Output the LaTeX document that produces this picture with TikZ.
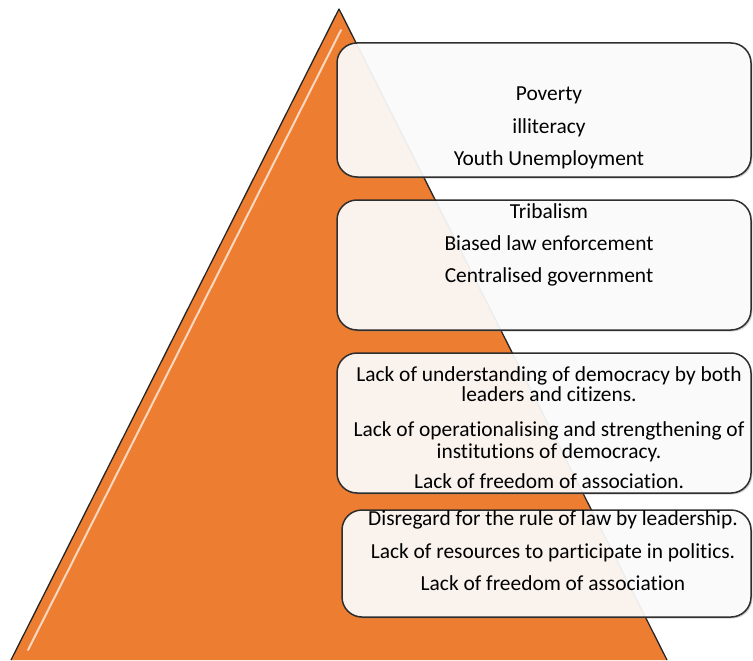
\documentclass[tikz,border=0pt]{standalone}
\usepackage{fontspec}
\setmainfont{Carlito}[Ligatures={NoCommon,NoRequired,NoContextual}, Contextuals=NoAlternate]
\usetikzlibrary{shadows}
\definecolor{tri}{HTML}{ED7D31}
\newcommand\nlti{t\kern0pt i}
\begin{document}
\begin{tikzpicture}[x=1pt,y=-1pt,
  box/.style={draw=black!82, line width=1.5pt, rounded corners=20pt, fill=white, fill opacity=0.9,
    inner sep=0pt, drop shadow={shadow xshift=1.5pt, shadow yshift=-1.5pt, opacity=0.35}},
  txt/.style={font=\fontsize{21.4}{25}\selectfont, text=black, anchor=base, inner sep=0pt},
  edge/.style={draw=black!85, line width=1.3pt, line join=round}]
\useasboundingbox (0,0) rectangle (753,661);
% pyramid
\coordinate (apex) at (339,9);
\coordinate (bl) at (11,660);
\coordinate (br) at (667,660);
\fill[tri] (apex) -- (bl) -- (br) -- cycle;
\coordinate (hs) at (341,30);
\coordinate (he) at (28,650);
\draw[white, line width=2pt, opacity=0.7, line cap=round] (hs) -- (he);
\draw[edge] (bl) -- (apex) -- (br);
% boxes
\node[box, minimum width=414pt, minimum height=134pt] (b1) at (544,110) {};
\node[box, minimum width=414pt, minimum height=130pt] (b2) at (544,265) {};
\node[box, minimum width=414pt, minimum height=140pt] (b3) at (544,423) {};
\node[box, minimum width=409pt, minimum height=107pt] (b4) at (546.5,563.5) {};
% texts
\node[txt] (t1) at (549,101) {Poverty};
\node[txt] (t2) at (549,133) {illiteracy};
\node[txt] (t3) at (549,165) {Youth Unemployment};
\node[txt] (t4) at (549,218) {Tribalism};
\node[txt] (t5) at (549,250) {Biased law enforcement};
\node[txt] (t6) at (549,282) {Centralised government};
\node[txt] (t7) at (549,381.5) {Lack of understanding of democracy by both};
\node[txt] (t8) at (549,401.5) {leaders and ci\nlti zens.};
\node[txt] (t9) at (549,436.5) {Lack of opera\nlti onalising and strengthening of};
\node[txt] (t10) at (549,458) {ins\nlti tu\nlti ons of democracy.};
\node[txt] (t11) at (549,488) {Lack of freedom of associa\nlti on.};
\node[txt] (t12) at (553,525) {Disregard for the rule of law by leadership.};
\node[txt] (t13) at (553,558) {Lack of resources to par\nlti cipate in poli\nlti cs.};
\node[txt] (t14) at (553,590) {Lack of freedom of associa\nlti on};
\end{tikzpicture}
\end{document}
